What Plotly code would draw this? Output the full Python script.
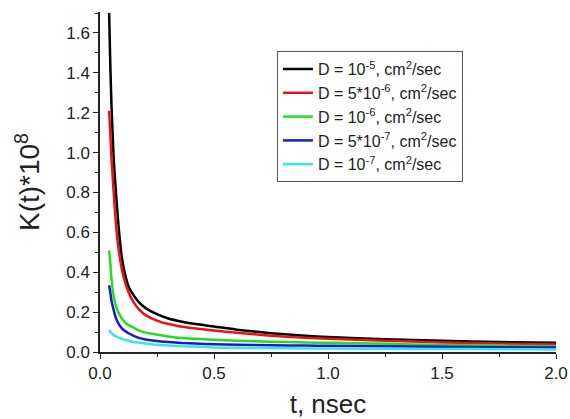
import plotly.graph_objects as go

# Time points (nsec)
t = [0.04, 0.045, 0.05, 0.06, 0.07, 0.08, 0.095, 0.11, 0.125, 0.15, 0.17, 0.2,
     0.25, 0.3, 0.36, 0.42, 0.5, 0.6, 0.75, 0.9, 1.0, 1.25, 1.5, 1.75, 2.0]

# K(t)*10^8 for each diffusion coefficient
k_d1e5 = [1.70, 1.45, 1.25, 0.97, 0.80, 0.65, 0.48, 0.39, 0.33, 0.28, 0.25, 0.22,
          0.19, 0.168, 0.152, 0.14, 0.128, 0.112, 0.094, 0.081, 0.075, 0.064, 0.056, 0.050, 0.046]
k_d5e6 = [1.21, 1.10, 0.98, 0.80, 0.64, 0.53, 0.42, 0.35, 0.30, 0.245, 0.215, 0.185,
          0.157, 0.140, 0.127, 0.118, 0.108, 0.096, 0.082, 0.072, 0.066, 0.057, 0.048, 0.042, 0.038]
k_d1e6 = [0.51, 0.45, 0.37, 0.28, 0.23, 0.20, 0.17, 0.148, 0.135, 0.12, 0.108, 0.097,
          0.087, 0.078, 0.070, 0.066, 0.061, 0.057, 0.052, 0.048, 0.046, 0.041, 0.035, 0.032, 0.029]
k_d5e7 = [0.335, 0.30, 0.26, 0.21, 0.17, 0.145, 0.12, 0.105, 0.094, 0.080, 0.071, 0.063,
          0.055, 0.050, 0.045, 0.042, 0.039, 0.036, 0.034, 0.032, 0.031, 0.029, 0.026, 0.024, 0.022]
k_d1e7 = [0.11, 0.102, 0.095, 0.085, 0.078, 0.073, 0.066, 0.061, 0.056, 0.050, 0.047, 0.043,
          0.036, 0.032, 0.029, 0.027, 0.023, 0.021, 0.019, 0.018, 0.017, 0.016, 0.015, 0.014, 0.013]

labels = [
    "D = 10<sup>-5</sup>, cm<sup>2</sup>/sec",
    "D = 5*10<sup>-6</sup>, cm<sup>2</sup>/sec",
    "D = 10<sup>-6</sup>, cm<sup>2</sup>/sec",
    "D = 5*10<sup>-7</sup>, cm<sup>2</sup>/sec",
    "D = 10<sup>-7</sup>, cm<sup>2</sup>/sec",
]
series = [k_d1e5, k_d5e6, k_d1e6, k_d5e7, k_d1e7]
colors = ["#000000", "#ee1111", "#22dd22", "#1a1acc", "#33e6f0"]

x_ticks = [0.0, 0.5, 1.0, 1.5, 2.0]
y_ticks = [0.0, 0.2, 0.4, 0.6, 0.8, 1.0, 1.2, 1.4, 1.6]

fig = go.Figure()
for name, ys, c in zip(labels, series, colors):
    fig.add_trace(go.Scatter(x=t, y=ys, mode="lines", name=name,
                             line=dict(color=c, width=2.5, shape="spline", smoothing=0.6)))

font = "Liberation Sans, Arial, sans-serif"
axis_common = dict(
    showline=True, linecolor="#222", linewidth=1.5,
    ticks="outside", ticklen=5, tickwidth=1.3, tickcolor="#222",
    showgrid=False, zeroline=False, mirror=False, automargin=False,
    tickfont=dict(family=font, size=17, color="#222"),
)

fig.update_layout(
    width=570, height=419,
    margin=dict(l=100, r=14, t=12, b=67),
    paper_bgcolor="white", plot_bgcolor="white",
    font=dict(family=font, color="#222"),
    xaxis=dict(range=[0, 2.0], tickvals=x_ticks, tickformat=".1f",
               minor=dict(ticks="outside", ticklen=3, tickcolor="#222", dtick=0.25, tick0=0),
               title=dict(text="t, nsec", font=dict(family=font, size=26, color="#222"), standoff=14),
               **axis_common),
    yaxis=dict(range=[0, 1.705], tickvals=y_ticks, tickformat=".1f",
               minor=dict(ticks="outside", ticklen=3, tickcolor="#222", dtick=0.1, tick0=0),
               title=dict(text="K(t)*10<sup>8</sup>", font=dict(family=font, size=28, color="#222"), standoff=18),
               **axis_common),
    legend=dict(x=0.388, y=0.885, xanchor="left", yanchor="top",
                bordercolor="#555", borderwidth=1, bgcolor="white",
                font=dict(family=font, size=16, color="#222"),
                tracegroupgap=0, itemwidth=30),
    showlegend=True,
)

fig.write_html("out.html")
